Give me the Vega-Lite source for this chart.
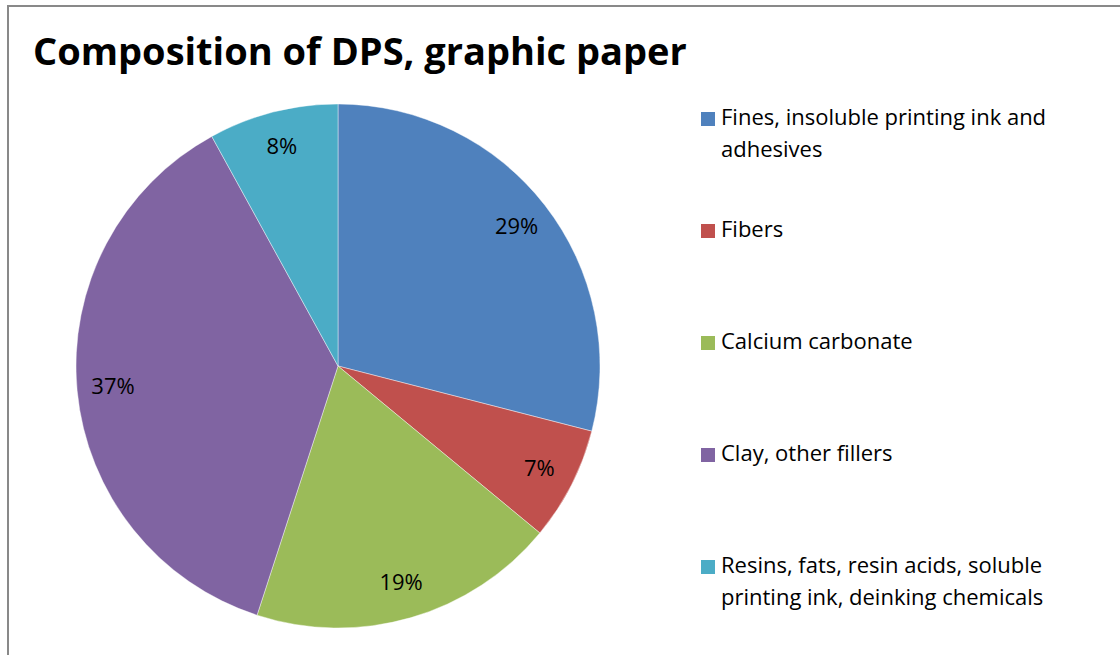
{
  "$schema": "https://vega.github.io/schema/vega-lite/v6.json",
  "width": 1120,
  "height": 660,
  "autosize": {"type": "none"},
  "padding": {"left": 8, "top": 6, "right": 0, "bottom": 0},
  "background": "white",
  "view": {"stroke": "#898989", "strokeWidth": 2, "fill": "white"},
  "title": {
    "text": "Composition of DPS, graphic paper",
    "anchor": "start",
    "frame": "group",
    "fontSize": 38,
    "font": "Open Sans",
    "fontWeight": "bold",
    "color": "#000000",
    "offset": 0,
    "baseline": "alphabetic",
    "dx": 25,
    "dy": 97
  },
  "data": {
    "values": [
      {"n": 1, "component": "Fines, insoluble printing ink and adhesives", "share": 0.29},
      {"n": 2, "component": "Fibers", "share": 0.07},
      {"n": 3, "component": "Calcium carbonate", "share": 0.19},
      {"n": 4, "component": "Clay, other fillers", "share": 0.37},
      {"n": 5, "component": "Resins, fats, resin acids, soluble printing ink, deinking chemicals", "share": 0.08}
    ]
  },
  "layer": [
    {
      "mark": {"type": "arc", "outerRadius": 262, "x": 330, "y": 360, "stroke": "#ffffff", "strokeWidth": 0.6, "strokeOpacity": 0.7},
      "encoding": {
        "theta": {"field": "share", "type": "quantitative", "stack": true},
        "order": {"field": "n", "type": "quantitative"},
        "color": {
          "field": "component",
          "type": "nominal",
          "sort": null,
          "scale": {
            "domain": [
              "Fines, insoluble printing ink and adhesives",
              "Fibers",
              "Calcium carbonate",
              "Clay, other fillers",
              "Resins, fats, resin acids, soluble printing ink, deinking chemicals"
            ],
            "range": ["#4F81BD", "#C0504D", "#9BBB59", "#8064A2", "#4BACC6"]
          },
          "legend": {
            "title": null,
            "orient": "none",
            "legendX": 689,
            "legendY": 108,
            "columns": 1,
            "gridAlign": "all",
            "symbolType": "M-1,-1.857H1V0.143H-1Z",
            "symbolSize": 196,
            "symbolStrokeWidth": 0,
            "labelFont": "Open Sans",
            "labelFontSize": 22,
            "labelColor": "#000000",
            "labelOffset": 2,
            "labelLimit": 500,
            "labelBaseline": "alphabetic",
            "rowPadding": 58,
            "padding": 0,
            "labelExpr": "datum.label == 'Fines, insoluble printing ink and adhesives' ? ['Fines, insoluble printing ink and', 'adhesives'] : datum.label == 'Resins, fats, resin acids, soluble printing ink, deinking chemicals' ? ['Resins, fats, resin acids, soluble', 'printing ink, deinking chemicals'] : datum.label"
          }
        }
      }
    },
    {
      "mark": {"type": "text", "radius": 226, "x": 330, "y": 360, "fontSize": 22, "font": "Open Sans", "color": "#000000"},
      "encoding": {
        "theta": {"field": "share", "type": "quantitative", "stack": true},
        "order": {"field": "n", "type": "quantitative"},
        "text": {"field": "share", "type": "quantitative", "format": ".0%"}
      }
    }
  ],
  "config": {
    "style": {"guide-label": {"lineHeight": 32}}
  }
}
